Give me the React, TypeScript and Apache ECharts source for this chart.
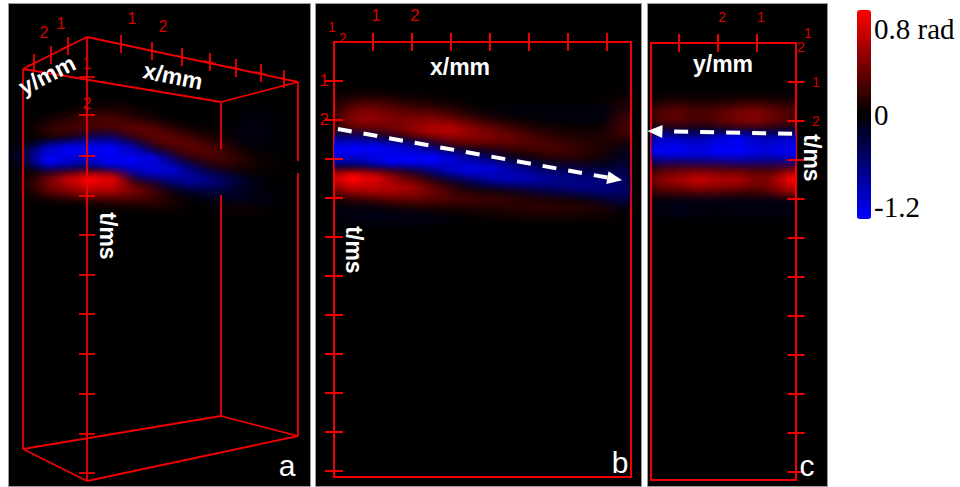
import React, { useEffect, useRef } from "react";
import * as echarts from "echarts";

const WIRE = "#f00000";
const LABEL_RED = "#d80000";
const SANS = "Liberation Sans";
const SERIF = "Liberation Serif";

// Heat levels in percent of the colour bar: +100 = full red (0.8 rad), -100 = full blue (-1.2 rad)
const bX = [0, 0.5, 1, 1.5, 2, 2.5, 3, 3.5, 4, 4.5, 5, 5.5, 6, 6.5, 7, 7.5];
const bT = [1.5, 1.75, 2, 2.25, 2.5, 2.75, 3, 3.25, 3.5, 3.75, 4, 4.25, 4.5];
const bLevels = [
  [5, 18, 20, 14, 8, 6, 3, 0, 0, 0, 0, 0, 0, 0, 2, 10],
  [12, 40, 45, 35, 28, 25, 15, 5, -3, -5, -5, -5, -5, -6, -6, 18],
  [18, 52, 55, 45, 45, 50, 40, 25, 14, 4, 0, -3, -3, -4, -4, 28],
  [0, 25, 28, 38, 52, 65, 68, 52, 40, 30, 16, 10, 6, 5, 7, 32],
  [-50, -50, -35, -15, 5, 25, 42, 48, 45, 40, 32, 22, 16, 12, 12, 15],
  [-92, -95, -90, -80, -70, -40, -12, 3, 10, 18, 24, 28, 26, 18, 8, -12],
  [-70, -60, -75, -92, -100, -95, -75, -55, -35, -15, 0, 10, 14, 10, 3, -18],
  [0, -5, -10, -15, -20, -50, -70, -80, -75, -60, -45, -30, -25, -20, -20, -25],
  [75, 92, 78, 52, 30, 5, -20, -40, -60, -68, -65, -55, -50, -45, -40, -32],
  [45, 65, 65, 65, 58, 40, 18, 0, -5, -15, -25, -35, -45, -48, -48, -36],
  [6, 20, 26, 38, 38, 36, 30, 26, 24, 18, 12, 6, 5, -5, -25, -30],
  [-3, -5, -5, 0, 5, 8, 8, 12, 12, 14, 18, 18, 18, 14, 10, -5],
  [-5, -8, -10, -10, -10, -8, -3, 0, 3, 5, 5, 5, 5, 5, 3, 0],
];

const cY = [3.5, 3, 2.5, 2, 1.5, 1, 0.5, 0];
const cT = [1.5, 1.75, 2, 2.25, 2.5, 2.75, 3, 3.25, 3.5, 3.75, 4, 4.25, 4.5];
const cLevels = [
  [8, 12, 8, 10, 12, 16, 10, 8],
  [32, 36, 26, 30, 42, 46, 34, 28],
  [30, 34, 22, 34, 45, 50, 34, 26],
  [-15, -10, -15, -10, -10, -10, -10, -15],
  [-75, -70, -62, -78, -85, -68, -70, -75],
  [-85, -85, -78, -88, -95, -78, -80, -85],
  [-48, -45, -50, -50, -55, -55, -50, -60],
  [25, 32, 32, 30, 25, 25, 24, 42],
  [52, 58, 72, 62, 65, 42, 55, 92],
  [34, 34, 42, 40, 34, 30, 45, 68],
  [-3, -5, -5, -5, -5, -5, -5, -3],
  [-8, -10, -8, -5, -8, -8, -8, -5],
  [-3, -3, -3, 0, -3, -3, -3, -2],
];

const aX = [30, 50, 70, 90, 110, 130, 150, 170, 190, 210, 230, 250, 270];
const aY = [110, 120, 130, 140, 150, 160, 170, 180, 190, 200, 210, 220];
const aLevels = [
  [0, 0, 0, 8, 12, 8, 0, 0, 0, 0, 0, -3, -2],
  [0, 6, 18, 30, 30, 20, 10, 0, 0, 0, 0, -6, -3],
  [0, 24, 28, 22, 22, 38, 38, 20, 6, 3, 0, -8, -4],
  [0, 0, -10, -40, -50, -10, 30, 40, 30, 14, 3, -8, -4],
  [-20, -75, -85, -90, -100, -70, -20, 20, 36, 32, 16, 0, -2],
  [-30, -85, -70, -65, -85, -85, -80, -40, 6, 26, 25, 10, 3],
  [0, -20, -15, -10, -25, -60, -75, -75, -45, -15, 5, 6, 3],
  [10, 45, 70, 85, 80, 12, -20, -45, -60, -50, -30, -10, 0],
  [8, 38, 50, 62, 62, 50, 30, 0, -15, -25, -20, -8, -3],
  [0, 3, 6, 12, 18, 22, 22, 14, 0, -5, -8, -10, -5],
  [0, 0, 0, 0, 0, 0, 3, 3, 0, -3, 6, 6, 0],
  [0, 0, 0, 0, 0, 0, 0, 0, 0, 0, 0, 0, 0],
];

// Wireframe edges of the projected box in panel a: [x1, y1, x2, y2]
const aEdges = [
  [23, 69, 87, 37], [87, 37, 298, 82], [298, 82, 221, 102], [221, 102, 23, 69],
  [23, 449, 87, 481], [87, 481, 298, 436], [298, 436, 221, 416], [221, 416, 23, 449],
  [23, 69, 23, 449], [87, 37, 87, 481],
  [221, 102, 221, 149], [221, 195, 221, 416],
  [298, 82, 298, 161], [298, 173, 298, 436],
];
const aTimeTicks = [77, 115, 156, 196, 235, 275, 314, 354, 394, 434, 473];
const aXTicks = [[121, 44], [152, 51], [182, 57], [210, 62], [236, 68], [261, 73], [284, 79]];
const aYTicks = [[68, 46], [51, 55], [34, 63]];

const axisTicksX = [1, 2, 3, 4, 5, 6, 7];
const axisTicksYc = [1, 2, 3];
const axisTicksT = [1, 2, 3, 4, 5, 6, 7, 8, 9, 10, 11];
const shownLabels = [1, 2];

const bArrow = [[0.1, 2.23], [7.2, 3.51]];
const cArrow = [[0.1, 2.33], [3.62, 2.26]];

const flatten = (cols: number[], rows: number[], m: number[][]) =>
  m.flatMap((r, j) => r.map((v, i) => [cols[i], rows[j], v])).filter((d) => d[2] !== 0);

const kernel = (rgb: string) =>
  new echarts.graphic.RadialGradient(0.5, 0.5, 0.5, [
    { offset: 0, color: `rgba(${rgb},1)` },
    { offset: 0.2, color: `rgba(${rgb},0.88)` },
    { offset: 0.4, color: `rgba(${rgb},0.61)` },
    { offset: 0.6, color: `rgba(${rgb},0.32)` },
    { offset: 0.8, color: `rgba(${rgb},0.12)` },
    { offset: 1, color: `rgba(${rgb},0)` },
  ]);

const heatSeries = (grid: number, cols: number[], rows: number[], m: number[][], z = 2) => {
  const red = kernel("255,0,0");
  const blue = kernel("0,0,255");
  const dx = Math.abs(cols[1] - cols[0]);
  const dy = Math.abs(rows[1] - rows[0]);
  return {
    type: "custom",
    xAxisIndex: grid,
    yAxisIndex: grid,
    clip: true,
    silent: true,
    z,
    data: flatten(cols, rows, m),
    renderItem: (_: any, api: any) => {
      const p = api.coord([api.value(0), api.value(1)]);
      const s = api.size([dx, dy]);
      const rx = Math.abs(s[0]) * 1.5;
      const ry = Math.abs(s[1]) * 1.5;
      const v = api.value(2) / 100;
      const a = Math.min(1, -Math.log(1 - Math.min(0.98, Math.abs(v))) / 2.0);
      return {
        type: "rect",
        shape: { x: p[0] - rx, y: p[1] - ry, width: 2 * rx, height: 2 * ry },
        style: { fill: v > 0 ? red : blue, opacity: a },
      };
    },
  };
};

const segmentSeries = (grid: number, data: number[][], width: number, z = 5) => ({
  type: "custom",
  xAxisIndex: grid,
  yAxisIndex: grid,
  silent: true,
  z,
  data,
  renderItem: (_: any, api: any) => {
    const a = api.coord([api.value(0), api.value(1)]);
    const b = api.coord([api.value(2), api.value(3)]);
    return {
      type: "line",
      shape: { x1: a[0], y1: a[1], x2: b[0], y2: b[1] },
      style: { stroke: WIRE, lineWidth: width },
    };
  },
});

// Ticks that cross the axis, half px either side of the point
const crossSeries = (grid: number, data: number[][], hx: number, hy: number, width: number) => ({
  type: "custom",
  xAxisIndex: grid,
  yAxisIndex: grid,
  silent: true,
  z: 5,
  data,
  renderItem: (_: any, api: any) => {
    const p = api.coord([api.value(0), api.value(1)]);
    return {
      type: "line",
      shape: { x1: p[0] - hx, y1: p[1] - hy, x2: p[0] + hx, y2: p[1] + hy },
      style: { stroke: WIRE, lineWidth: width },
    };
  },
});

const arrowSeries = (grid: number, pts: number[][], rotate: number) => ({
  type: "line",
  xAxisIndex: grid,
  yAxisIndex: grid,
  silent: true,
  clip: false,
  z: 8,
  showAllSymbol: true,
  lineStyle: { color: "#fff", width: 4, type: [14, 12] },
  itemStyle: { color: "#fff" },
  data: [
    { value: pts[0], symbol: "none" },
    { value: pts[1], symbol: "triangle", symbolSize: [13, 15], symbolRotate: rotate },
  ],
});

const txt = (text: string, x: number, y: number, font: string, fill: string, rotation = 0, align = "center") => ({
  type: "text",
  x,
  y,
  rotation,
  z: 100,
  silent: true,
  style: { text, font, fill, align, verticalAlign: "middle" },
});

const panel = (x: number, y: number, width: number, height: number) => ({
  type: "rect",
  z: -1,
  silent: true,
  shape: { x: x + 0.5, y: y + 0.5, width, height },
  style: { fill: "#000", stroke: "#999", lineWidth: 1 },
});

const axisCommon = (fontSize: number, margin: number, padding: number[]) => ({
  type: "value",
  splitLine: { show: false },
  axisTick: { show: false },
  axisLine: { show: true, onZero: false, lineStyle: { color: WIRE, width: 2 } },
  axisLabel: {
    show: true,
    customValues: shownLabels,
    formatter: (v: number) => String(v),
    color: LABEL_RED,
    fontFamily: SANS,
    fontSize,
    margin,
    padding,
    hideOverlap: false,
  },
});

export default function App() {
  const ref = useRef<HTMLDivElement>(null);
  useEffect(() => {
    const chart = echarts.init(ref.current!, undefined, { renderer: "svg" });
    const red16 = `16px "${SANS}"`;
    const red14 = `14px "${SANS}"`;
    const white = `bold 23px "${SANS}"`;
    const letter = `30px "${SANS}"`;
    const legend = `29px "${SERIF}"`;
    chart.setOption({
      animation: false,
      backgroundColor: "#fff",
      grid: [
        { left: 8, top: 3, width: 302, height: 483 },
        { left: 334, top: 42, width: 297, height: 435, show: true, borderColor: WIRE, borderWidth: 2, backgroundColor: "transparent" },
        { left: 651, top: 43, width: 145, height: 437, show: true, borderColor: WIRE, borderWidth: 2, backgroundColor: "transparent" },
      ],
      xAxis: [
        { type: "value", gridIndex: 0, min: 8, max: 310, show: false },
        { ...axisCommon(17, 18, [0, 0, 0, 6]), gridIndex: 1, position: "top", min: 0, max: 7.615 },
        { ...axisCommon(14, 19, [0, 0, 0, 8]), gridIndex: 2, position: "top", inverse: true, min: 0, max: 3.72 },
      ],
      yAxis: [
        { type: "value", gridIndex: 0, min: 3, max: 486, inverse: true, show: false },
        { ...axisCommon(17, 5, [0, 0, 6, 0]), axisLabel: { ...axisCommon(17, 5, [0, 0, 26, 0]).axisLabel, verticalAlign: "middle" }, gridIndex: 1, position: "left", inverse: true, min: 0, max: 11.154 },
        { ...axisCommon(14, 16, [0, 0, 26, 0]), axisLabel: { ...axisCommon(14, 16, [0, 0, 26, 0]).axisLabel, verticalAlign: "middle" }, gridIndex: 2, position: "right", inverse: true, min: 0, max: 11.205 },
      ],
      visualMap: {
        type: "continuous",
        seriesIndex: [],
        min: -1,
        max: 1,
        show: true,
        calculable: false,
        hoverLink: false,
        left: 857,
        top: 10,
        padding: 0,
        itemWidth: 14,
        itemHeight: 209,
        inRange: { color: ["#0000ff", "#000000", "#ff0000"] },
      },
      graphic: [
        panel(8, 3, 302, 483),
        panel(315, 3, 326, 483),
        panel(647, 3, 180, 483),
        txt("2", 44, 32, red16, LABEL_RED),
        txt("1", 61, 23, red16, LABEL_RED),
        txt("1", 132, 18, red16, LABEL_RED),
        txt("2", 163, 26, red16, LABEL_RED),
        txt("1", 87, 63, red16, LABEL_RED),
        txt("2", 87, 103, red16, LABEL_RED),
        txt("1", 332, 27, red14, LABEL_RED),
        txt("2", 343, 38, red14, LABEL_RED),
        txt("1", 808, 33, red14, LABEL_RED),
        txt("2", 801, 47, red14, LABEL_RED),
        txt("y/mm", 47, 75, white, "#fff", 0.47),
        txt("x/mm", 173, 76, white, "#fff", -0.2),
        txt("t/ms", 108, 236, white, "#fff", -Math.PI / 2),
        txt("x/mm", 460, 67, white, "#fff"),
        txt("t/ms", 354, 250, white, "#fff", -Math.PI / 2),
        txt("y/mm", 723, 64, white, "#fff"),
        txt("t/ms", 812, 158, white, "#fff", -Math.PI / 2),
        txt("a", 287, 465, letter, "#fff"),
        txt("b", 620, 462, letter, "#fff"),
        txt("c", 807, 465, letter, "#fff"),
        txt("0.8 rad", 874, 29, legend, "#000", 0, "left"),
        txt("0", 874, 115, legend, "#000", 0, "left"),
        txt("-1.2", 874, 207, legend, "#000", 0, "left"),
      ],
      series: [
        heatSeries(0, aX, aY, aLevels),
        heatSeries(1, bX, bT, bLevels),
        heatSeries(2, cY, cT, cLevels),
        segmentSeries(0, aEdges, 1.8),
        crossSeries(0, aTimeTicks.map((y) => [87, y]), 8, 0, 1.8),
        crossSeries(0, aXTicks, 0, 9, 1.8),
        crossSeries(0, aXTicks, 6, 1.5, 1),
        crossSeries(0, aYTicks, 0, 9, 1.8),
        crossSeries(0, aYTicks, 7, -3, 1),
        crossSeries(1, axisTicksX.map((x) => [x, 0]), 0, 9, 2),
        crossSeries(1, axisTicksT.map((t) => [0, t]), 9, 0, 2),
        crossSeries(2, axisTicksYc.map((y) => [y, 0]), 0, 9, 2),
        crossSeries(2, axisTicksT.map((t) => [0, t]), 8.5, 0, 2),
        arrowSeries(1, bArrow, -100),
        arrowSeries(2, cArrow, 88),
      ],
    });
    return () => chart.dispose();
  }, []);
  return <div ref={ref} style={{ position: "fixed", left: 0, top: 0, width: 960, height: 487 }} />;
}
